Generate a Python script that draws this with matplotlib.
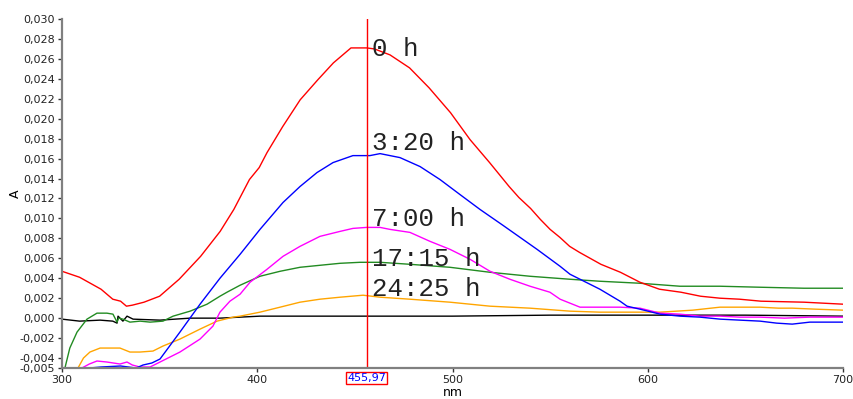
import matplotlib
matplotlib.use("Agg")
import matplotlib.pyplot as plt
from matplotlib.ticker import FuncFormatter
import numpy as np

plt.rcParams['font.family'] = ['DejaVu Sans']

# ---------------- data ----------------
wl_0h = [300, 309, 320, 326, 330, 333, 336, 342, 350, 360, 371, 381, 388, 396, 401, 405,
         413, 422, 431, 439, 448, 456, 460, 468, 478, 488, 499, 509, 519, 529, 534, 540,
         545, 550, 555, 560, 565, 576, 586, 596, 606, 617, 627, 637, 647, 658, 680, 700]
a_0h = [0.0047, 0.0041, 0.0029, 0.0019, 0.0017, 0.0012, 0.0013, 0.0016, 0.0022, 0.0039,
        0.0062, 0.0087, 0.0109, 0.0139, 0.0151, 0.0166, 0.0192, 0.0219, 0.0239, 0.0256,
        0.0271, 0.0271, 0.0270, 0.0264, 0.0251, 0.0231, 0.0206, 0.0179, 0.0156, 0.0132,
        0.0121, 0.0110, 0.0099, 0.0089, 0.0081, 0.0072, 0.0066, 0.0054, 0.0046, 0.0036,
        0.0029, 0.0026, 0.0022, 0.0020, 0.0019, 0.0017, 0.0016, 0.0014]

wl_3h20 = [305, 314, 320, 330, 338, 341.5, 346, 350.2, 360.4, 370.7, 380.9, 391.2, 401.4,
           413.2, 421.9, 430.6, 438.8, 449, 457.7, 462.9, 473.1, 483.4, 493.6, 503.8, 514.1,
           525.9, 543.3, 555.1, 560.2, 565.3, 570.4, 575.5, 585.8, 589.4, 596, 606.3, 616.5,
           626.8, 637, 647.2, 657.5, 666, 674, 683, 700]
a_3h20 = [-0.0060, -0.0050, -0.0049, -0.0048, -0.0050, -0.0047, -0.0045, -0.0041, -0.0014,
          0.0014, 0.0040, 0.0064, 0.0089, 0.0116, 0.0132, 0.0146, 0.0156, 0.0163, 0.0163,
          0.0165, 0.0161, 0.0152, 0.0139, 0.0124, 0.0109, 0.0093, 0.0069, 0.0052, 0.0044,
          0.0039, 0.0034, 0.0029, 0.0017, 0.0012, 0.0009, 0.0004, 0.0002, 0.0001, -0.0001,
          -0.0002, -0.0003, -0.0005, -0.0006, -0.0004, -0.0004]

wl_7h = [308, 310.2, 314, 317.9, 323, 329.7, 333.3, 336, 339.9, 345.1, 350.2, 360.4, 370.7,
         377.3, 380.9, 386, 391.2, 396.3, 405, 413.2, 421.9, 432.1, 442.4, 449, 456, 462.9,
         468, 478.2, 488.5, 498.7, 509, 519.2, 529.4, 539.7, 549.9, 555.1, 565.3, 575.5,
         585.8, 596, 606.3, 616.5, 626.8, 637, 647.2, 657.5, 670, 683, 700]
a_7h = [-0.0055, -0.0050, -0.0046, -0.0043, -0.0044, -0.0046, -0.0044, -0.0047, -0.0049,
        -0.0049, -0.0044, -0.0034, -0.0021, -0.0008, 0.0006, 0.0017, 0.0024, 0.0036, 0.0049,
        0.0062, 0.0072, 0.0082, 0.0087, 0.0090, 0.0091, 0.0091, 0.0089, 0.0086, 0.0077,
        0.0069, 0.0059, 0.0047, 0.0039, 0.0032, 0.0026, 0.0019, 0.0011, 0.0011, 0.0011,
        0.0010, 0.0005, 0.0004, 0.0002, 0.0002, 0.0001, 0.0001, 0.0000, 0.0001, 0.0001]

wl_17h15 = [300.5, 301.5, 304, 307.7, 312.8, 317.9, 323, 326.1, 328.2, 329, 331.2, 334.8,
            340, 345.1, 351.7, 356.9, 365.6, 374.3, 380.9, 384.5, 391.2, 401.4, 411.7, 421.9,
            432.1, 442.4, 452.6, 462.9, 478.2, 498.7, 519.2, 539.7, 560.2, 575.5, 596, 616.5,
            637, 657.5, 680, 700]
a_17h15 = [-0.0055, -0.0050, -0.0030, -0.0014, -0.0001, 0.0005, 0.0005, 0.0004, -0.0004,
           0.0000, -0.0001, -0.0004, -0.0003, -0.0004, -0.0003, 0.0002, 0.0007, 0.0014,
           0.0022, 0.0026, 0.0033, 0.0042, 0.0047, 0.0051, 0.0053, 0.0055, 0.0056, 0.0056,
           0.0054, 0.0051, 0.0046, 0.0042, 0.0039, 0.0037, 0.0035, 0.0032, 0.0032, 0.0031,
           0.0030, 0.0030]

wl_24h25 = [306, 308.2, 311, 314.3, 319.5, 329.7, 334.8, 339.9, 346.6, 351.7, 360.4, 370.7,
            379.4, 387.6, 391.2, 401.4, 411.7, 421.9, 432.1, 442.4, 454.2, 462.9, 478.2,
            498.7, 519.2, 539.7, 560.2, 575.5, 590, 606.3, 623, 637, 647.2, 657.5, 667, 674,
            686, 700]
a_24h25 = [-0.0055, -0.0050, -0.0040, -0.0034, -0.0030, -0.0030, -0.0034, -0.0034, -0.0033,
           -0.0028, -0.0021, -0.0011, -0.0003, 0.0001, 0.0002, 0.0006, 0.0011, 0.0016,
           0.0019, 0.0021, 0.0023, 0.0021, 0.0019, 0.0016, 0.0012, 0.0010, 0.0007, 0.0006,
           0.0006, 0.0006, 0.0008, 0.0011, 0.0011, 0.0011, 0.0010, 0.0010, 0.0009, 0.0008]

wl_base = [300, 309, 319.5, 326, 328.2, 328.7, 331.2, 333.3, 336.4, 350.2, 365.6, 380.9,
           401.4, 450, 500, 550, 600, 650, 700]
a_base = [-0.0001, -0.0003, -0.0002, -0.0003, -0.0005, 0.0002, -0.0003, 0.0002, -0.0001,
          -0.0002, 0.0000, 0.0000, 0.0002, 0.0002, 0.0002, 0.0003, 0.0003, 0.0003, 0.0002]

labels = ["0 h", "3:20 h", "7:00 h", "17:15 h", "24:25 h"]
label_y = [0.0263, 0.0169, 0.0092, 0.0052, 0.0022]
cursor_nm = 455.97

x_ticks = [300, 400, 500, 600, 700]
y_ticks = [-0.005, -0.004, -0.002, 0.000, 0.002, 0.004, 0.006, 0.008, 0.010, 0.012,
           0.014, 0.016, 0.018, 0.020, 0.022, 0.024, 0.026, 0.028, 0.030]

# ---------------- figure ----------------
fig = plt.figure(figsize=(8.54, 3.99), dpi=100)
ax = fig.add_axes([62 / 854, 31 / 399, 781 / 854, 349 / 399])

lw = 1.0
ax.plot(wl_base, a_base, color='black', lw=lw)
ax.plot(wl_24h25, a_24h25, color='#FFA500', lw=lw)
ax.plot(wl_17h15, a_17h15, color='#228B22', lw=lw)
ax.plot(wl_7h, a_7h, color='#FF00FF', lw=lw)
ax.plot(wl_3h20, a_3h20, color='#0000FF', lw=lw)
ax.plot(wl_0h, a_0h, color='#FF0000', lw=lw)

ax.axvline(cursor_nm, color='#FF0000', lw=1.0)

for txt, yv in zip(labels, label_y):
    ax.text(cursor_nm + 2.8, yv, txt, family=['Liberation Mono', 'DejaVu Sans Mono'],
            fontsize=18.5, color='#222222', va='baseline', ha='left')

ax.set_xlim(300, 700)
ax.set_ylim(-0.005, 0.030)
ax.set_xticks(x_ticks)
ax.set_yticks(y_ticks)
ax.xaxis.set_major_formatter(FuncFormatter(lambda v, p: f"{v:.0f}"))
ax.yaxis.set_major_formatter(FuncFormatter(lambda v, p: f"{v:.3f}".replace('.', ',').replace('\u2212', '-')))

for s in ['top', 'right']:
    ax.spines[s].set_visible(False)
for s in ['left', 'bottom']:
    ax.spines[s].set_color('#808080')
    ax.spines[s].set_linewidth(1.6)

ax.tick_params(axis='both', direction='out', length=3, width=1, color='#333333',
               labelsize=8, labelcolor='#222222', pad=2)

ax.set_xlabel('nm', fontsize=9, labelpad=1)
ax.set_ylabel('A', fontsize=9, labelpad=-2)

# cursor value box
ax.text(cursor_nm, -0.029, "455,97", transform=ax.get_xaxis_transform(),
        ha='center', va='center', fontsize=8, color='#0000FF',
        bbox=dict(boxstyle='square,pad=0.1', facecolor='white', edgecolor='#FF0000', lw=1))

fig.savefig('out.png', dpi=100)
